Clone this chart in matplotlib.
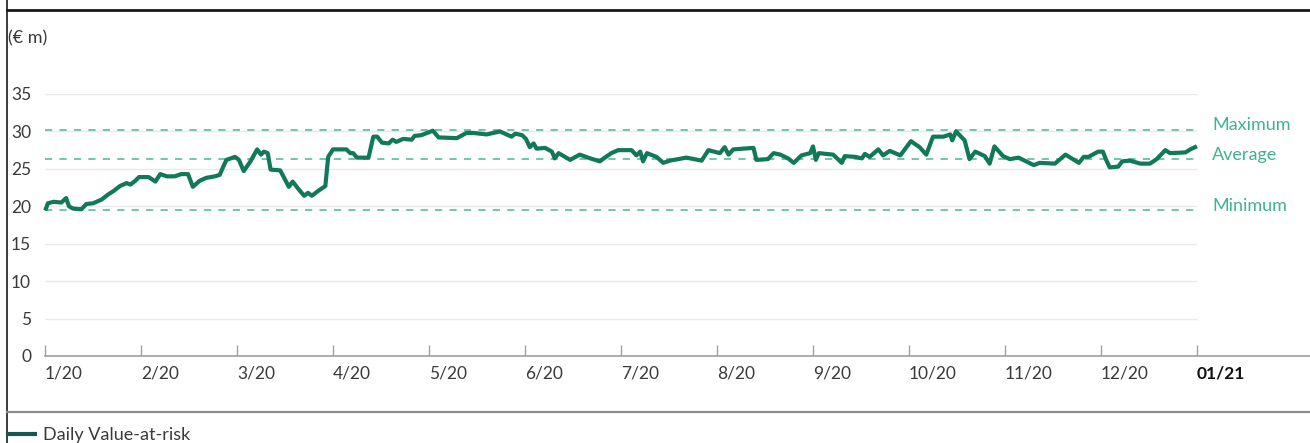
import matplotlib
matplotlib.use("Agg")
import matplotlib.pyplot as plt
from matplotlib.lines import Line2D

plt.rcParams['font.family'] = ['Lato', 'DejaVu Sans']

# ---- data (x in months since 1 Jan 2020, values in EUR m) ----
month_pos = [0.01, 0.03, 0.09, 0.17, 0.22, 0.25, 0.29, 0.38, 0.43, 0.50,
             0.59, 0.66, 0.71, 0.78, 0.85, 0.89, 0.94, 0.98, 1.08, 1.15,
             1.20, 1.27, 1.35, 1.42, 1.49, 1.54, 1.61, 1.68, 1.77, 1.82,
             1.85, 1.89, 1.98, 2.02, 2.07, 2.14, 2.21, 2.25, 2.28, 2.32,
             2.35, 2.45, 2.54, 2.58, 2.64, 2.70, 2.74, 2.78, 2.85, 2.92,
             2.95, 3.00, 3.14, 3.18, 3.21, 3.25, 3.37, 3.42, 3.46, 3.51,
             3.58, 3.62, 3.66, 3.73, 3.82, 3.85, 3.92, 4.04, 4.10, 4.29,
             4.39, 4.46, 4.60, 4.74, 4.79, 4.86, 4.90, 4.97, 5.01, 5.05,
             5.09, 5.12, 5.21, 5.28, 5.31, 5.35, 5.47, 5.57, 5.68, 5.73,
             5.78, 5.82, 5.90, 5.97, 6.11, 6.16, 6.20, 6.23, 6.27, 6.37,
             6.44, 6.51, 6.68, 6.84, 6.91, 7.03, 7.08, 7.12, 7.17, 7.38,
             7.41, 7.53, 7.59, 7.66, 7.74, 7.80, 7.88, 7.97, 8.00, 8.03,
             8.06, 8.21, 8.30, 8.33, 8.44, 8.51, 8.54, 8.59, 8.68, 8.73,
             8.80, 8.91, 9.02, 9.11, 9.18, 9.25, 9.36, 9.43, 9.45, 9.49,
             9.58, 9.63, 9.69, 9.79, 9.84, 9.89, 9.98, 10.05, 10.14, 10.30,
             10.36, 10.52, 10.63, 10.77, 10.82, 10.87, 10.97, 11.02, 11.05, 11.09,
             11.18, 11.22, 11.30, 11.41, 11.51, 11.58, 11.67, 11.72, 11.88, 11.93,
             11.98]
daily_var = [19.7, 20.4, 20.6, 20.5, 21.1, 20.0, 19.7, 19.6, 20.3, 20.4,
             20.9, 21.6, 22.0, 22.7, 23.1, 22.9, 23.4, 23.9, 23.9, 23.3,
             24.3, 24.0, 24.0, 24.3, 24.3, 22.6, 23.4, 23.8, 24.0, 24.2,
             25.1, 26.2, 26.6, 26.2, 24.7, 26.0, 27.6, 26.9, 27.3, 27.1,
             24.9, 24.8, 22.6, 23.3, 22.3, 21.4, 21.8, 21.4, 22.1, 22.7,
             26.6, 27.6, 27.6, 27.1, 27.1, 26.5, 26.5, 29.3, 29.3, 28.5,
             28.4, 28.9, 28.6, 29.0, 28.9, 29.4, 29.5, 30.1, 29.2, 29.1,
             29.8, 29.8, 29.6, 30.0, 29.7, 29.3, 29.7, 29.5, 29.0, 27.9,
             28.4, 27.7, 27.8, 27.3, 26.4, 27.1, 26.2, 26.9, 26.4, 26.2,
             26.0, 26.4, 27.1, 27.5, 27.5, 26.8, 27.3, 26.0, 27.1, 26.6,
             25.8, 26.1, 26.5, 26.1, 27.5, 27.1, 27.9, 26.9, 27.6, 27.8,
             26.2, 26.3, 27.1, 26.9, 26.4, 25.8, 26.8, 27.1, 28.0, 26.2,
             27.1, 26.9, 25.8, 26.7, 26.6, 26.4, 27.0, 26.6, 27.6, 26.8,
             27.4, 26.8, 28.7, 27.9, 26.9, 29.3, 29.3, 29.6, 28.8, 30.0,
             28.8, 26.3, 27.3, 26.7, 25.7, 28.0, 26.7, 26.3, 26.5, 25.5,
             25.8, 25.7, 26.9, 25.8, 26.6, 26.6, 27.3, 27.3, 26.3, 25.2,
             25.3, 26.0, 26.1, 25.7, 25.7, 26.3, 27.5, 27.1, 27.2, 27.6,
             27.9]

x_tick_labels = ["1/20", "2/20", "3/20", "4/20", "5/20", "6/20", "7/20",
                 "8/20", "9/20", "10/20", "11/20", "12/20", "01/21"]
y_ticks = [0, 5, 10, 15, 20, 25, 30, 35]
ref_names = ["Maximum", "Average", "Minimum"]
ref_values = [30.2, 26.3, 19.5]
series_name = "Daily Value-at-risk"
unit_label = "(€ m)"

# ---- styling ----
LINE_C = '#12785a'
DASH_C = '#66c0a7'
REF_TXT_C = '#3fb296'
GRID_C = '#e9e9e9'
TXT_C = '#3a3a3a'

W, H = 1310, 443
fig = plt.figure(figsize=(W / 100, H / 100), dpi=100)
ax = fig.add_axes([45 / W, 87 / H, 1265 / W, 262 / H])
n_months = len(x_tick_labels) - 1
ax.set_xlim(0, 1265 / 96)
ax.set_ylim(0, 35)

for v in y_ticks[1:]:
    ax.hlines(v, 0, n_months, color=GRID_C, lw=1.0, zorder=1)

for name, v in zip(ref_names, ref_values):
    ax.hlines(v, 0, n_months, colors=DASH_C, linestyles=(0, (4, 4)), lw=1.3, zorder=2)
    ax.text(n_months + 0.16, v + 0.6, name, color=REF_TXT_C, fontsize=13,
            va='center', ha='left')

ax.plot(month_pos, daily_var, color=LINE_C, lw=3.0, solid_joinstyle='round',
        zorder=3, clip_on=False)

for s in ['top', 'right', 'left']:
    ax.spines[s].set_visible(False)
ax.spines['bottom'].set_color('#a0a0a0')
ax.spines['bottom'].set_linewidth(1.2)

ax.set_xticks(range(len(x_tick_labels)))
ax.set_xticklabels(x_tick_labels, ha='left')
ax.tick_params(axis='x', direction='in', length=8, width=1, color='#a0a0a0',
               pad=7, labelsize=12.5, labelcolor=TXT_C)
ax.get_xticklabels()[-1].set_fontweight('bold')
ax.get_xticklabels()[-1].set_color('#111111')

ax.set_yticks(y_ticks)
ax.set_yticklabels([str(v) for v in y_ticks])
ax.tick_params(axis='y', length=0, pad=10, labelsize=12.5, labelcolor=TXT_C)

# unit label
fig.text(8 / W, 1 - 38 / H, unit_label, fontsize=13, color=TXT_C, va='center', ha='left')

# frame lines
fig.add_artist(Line2D([7 / W, 1], [1 - 10 / H, 1 - 10 / H], color='#1a1a1a', lw=2.0))
fig.add_artist(Line2D([7 / W, 7 / W], [0, 1], color='#1a1a1a', lw=1.2))
fig.add_artist(Line2D([7 / W, 1], [31 / H, 31 / H], color='#8a8a8a', lw=1.6))

# legend
handle = Line2D([], [], color='#17574c', lw=3.0)
fig.legend([handle], [series_name], loc='center left', frameon=False,
           bbox_to_anchor=(8 / W, 8 / H), handlelength=1.5, handletextpad=0.45,
           borderaxespad=0, borderpad=0, fontsize=13, labelcolor=TXT_C)

fig.savefig('out.png', dpi=100)
